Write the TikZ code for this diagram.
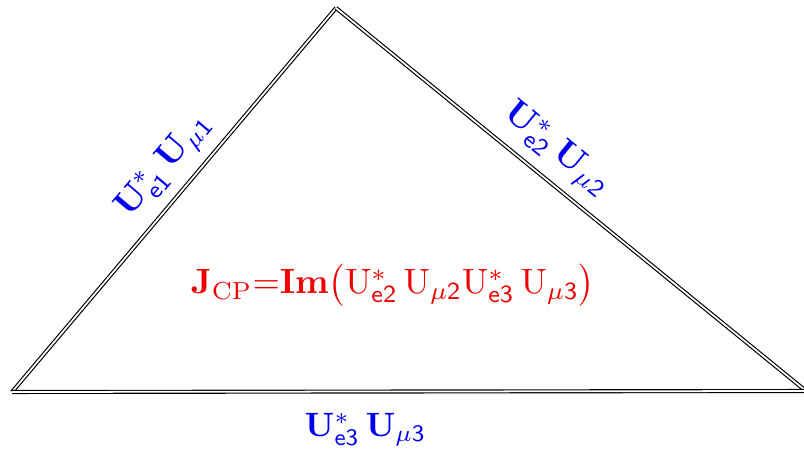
\documentclass[tikz,border=0pt]{standalone}
\usepackage{amsmath,amssymb}
\usepackage{tikz}
\usetikzlibrary{positioning,calc}
\definecolor{SideBlue}{RGB}{0,0,240}
\definecolor{JRed}{RGB}{240,0,0}

\begin{document}
\begin{tikzpicture}[
  side/.style={draw=black,line width=0.65pt,double=white,double distance=1pt},
  lbl/.style={text=SideBlue,scale=2,sloped,inner sep=1pt},
  jcp/.style={text=JRed,scale=2,inner sep=0pt}
]
\useasboundingbox (0,0) rectangle (16.08,9.24);
% vertices of the unitarity triangle
\coordinate (left) at (0.24,1.40);
\coordinate (top) at (6.72,9.08);
\coordinate (right) at (16.12,1.42);
\draw[side] (left) -- (top)
  node[lbl,pos=0.54,above=4pt] (s1) {$\mathbf{U}^{*}_{\mathsf{e1}}\,\mathbf{U}_{\mu\mathsf{1}}$};
\draw[side] (top) -- (right)
  node[lbl,pos=0.43,above=4pt] (s2) {$\mathbf{U}^{*}_{\mathsf{e2}}\,\mathbf{U}_{\mu\mathsf{2}}$};
\draw[side] (left) -- (right)
  node[lbl,pos=0.445,below=10pt,scale=0.96] (s3) {$\mathbf{U}^{*}_{\mathsf{e3}}\,\mathbf{U}_{\mu\mathsf{3}}$};
\node[jcp] (jcp) at (7.86,3.54)
  {$\mathbf{J}_{\mathrm{CP}}\mathbf{{=}Im}\big(\mathrm{U}^{*}_{\mathsf{e2}}\,\mathrm{U}_{\mu\mathsf{2}}\mathrm{U}^{*}_{\mathsf{e3}}\,\mathrm{U}_{\mu\mathsf{3}}\big)$};
\end{tikzpicture}
\end{document}
